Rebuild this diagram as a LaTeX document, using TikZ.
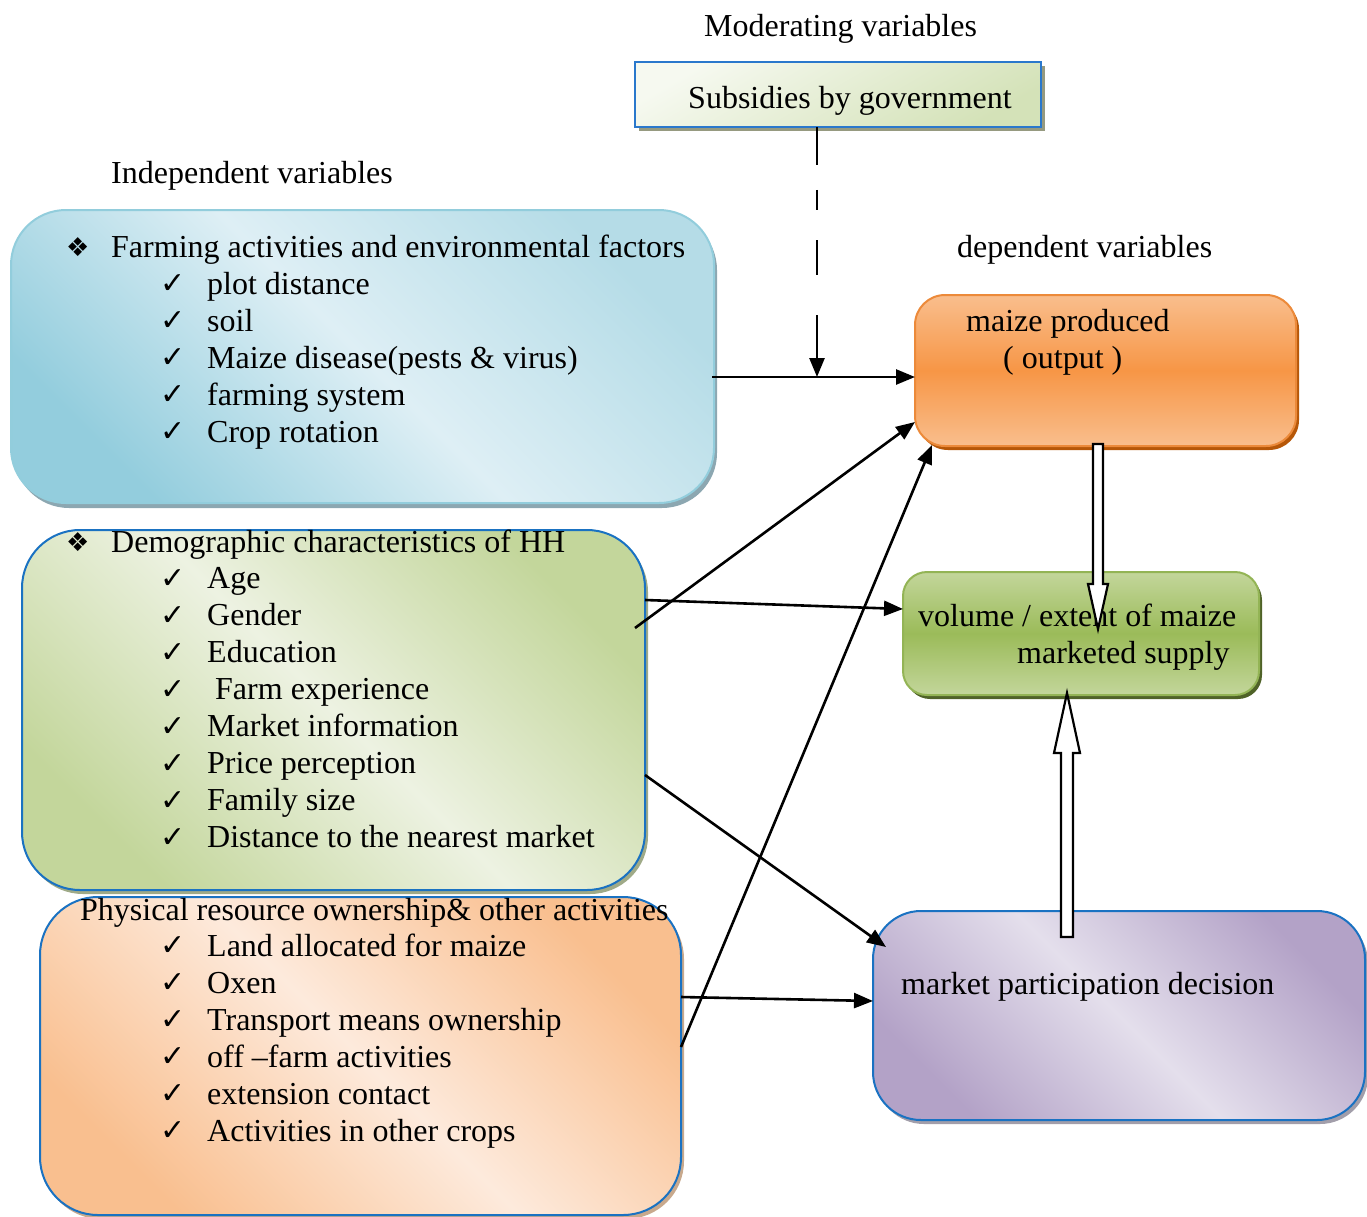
\documentclass[tikz,border=0pt]{standalone}
\usepackage{fontspec}
\setmainfont{Liberation Serif}
\newfontfamily\symf{DejaVu Sans}
\usetikzlibrary{arrows.meta,shadows,calc}
\definecolor{subA}{HTML}{F6F9F0}
\definecolor{subB}{HTML}{D4E2B8}
\definecolor{subBorder}{HTML}{2A78CC}
\definecolor{subShadow}{HTML}{969A80}
\definecolor{blueDark}{HTML}{93CDDD}
\definecolor{blueMid}{HTML}{B5DCE7}
\definecolor{blueLight}{HTML}{DEEFF5}
\definecolor{blueBorder}{HTML}{92CDDC}
\definecolor{blueShadow}{HTML}{8CA7B1}
\definecolor{demoDark}{HTML}{C3D69B}
\definecolor{demoLight}{HTML}{EDF2E2}
\definecolor{boxBlue}{HTML}{1A72C2}
\definecolor{demoShadow}{HTML}{9FAA88}
\definecolor{physDark}{HTML}{F9BF8F}
\definecolor{physLight}{HTML}{FDEADC}
\definecolor{physShadow}{HTML}{C8A98D}
\definecolor{purpDark}{HTML}{B3A2C7}
\definecolor{purpLight}{HTML}{E4DFEC}
\definecolor{purpShadow}{HTML}{A29EAA}
\definecolor{orgA}{HTML}{F9BE8D}
\definecolor{orgB}{HTML}{F79646}
\definecolor{orgBorder}{HTML}{EC8A3A}
\definecolor{orgShadow}{HTML}{B65708}
\definecolor{grnA}{HTML}{C3D69B}
\definecolor{grnB}{HTML}{9BBB59}
\definecolor{grnBorder}{HTML}{93B455}
\definecolor{grnShadow}{HTML}{4F6228}
\begin{document}
\begin{tikzpicture}[x=1pt,y=-1pt,
  boxbase/.style={rectangle, inner sep=0pt, line width=2pt},
  txt/.style={anchor=base west, inner sep=0pt, font=\fontsize{32}{37}\selectfont},
  chk/.style={anchor=base west, inner sep=0pt, font=\symf\bfseries\fontsize{30}{32}\selectfont},
  dia/.style={anchor=base west, inner sep=0pt, font=\symf\fontsize{26}{30}\selectfont},
  conn/.style={line width=2.6pt, -{Triangle[length=19pt,width=15pt]}},
  hollow/.style={line width=2.2pt, fill=white, draw=black, line join=miter}
]
\useasboundingbox (0,0) rectangle (1367,1217);

% ---------- boxes ----------
\node[boxbase, draw=subBorder, line width=2.8pt, minimum width=406pt, minimum height=65pt,
  top color=subA, bottom color=subB, shading angle=30,
  general shadow={shadow xshift=4pt, shadow yshift=-4pt, fill=subShadow}]
  (sub) at (838,94.5) {};

\node[boxbase, draw=blueBorder, rounded corners=55pt, minimum width=703pt, minimum height=293pt,
  top color=blueDark, bottom color=blueMid, middle color=blueLight, shading angle=135,
  general shadow={shadow xshift=3pt, shadow yshift=-5pt, fill=blueShadow}]
  (farm) at (362.5,356.5) {};

\node[boxbase, draw=boxBlue, rounded corners=58pt, minimum width=623pt, minimum height=360pt,
  top color=demoDark, bottom color=demoDark, middle color=demoLight, shading angle=135,
  general shadow={shadow xshift=3pt, shadow yshift=-4pt, fill=demoShadow}]
  (demo) at (333.5,710) {};

\node[boxbase, draw=boxBlue, rounded corners=58pt, minimum width=641pt, minimum height=318pt,
  top color=physDark, bottom color=physDark, middle color=physLight, shading angle=135,
  general shadow={shadow xshift=3pt, shadow yshift=-4pt, fill=physShadow}]
  (phys) at (360.5,1056) {};

\node[boxbase, draw=orgBorder, rounded corners=30pt, minimum width=381pt, minimum height=151pt,
  top color=orgA, bottom color=orgA, middle color=orgB,
  general shadow={shadow xshift=3pt, shadow yshift=-4pt, fill=orgShadow}]
  (maize) at (1105.5,370.5) {};

\node[boxbase, draw=grnBorder, rounded corners=24pt, minimum width=356pt, minimum height=123pt,
  top color=grnA, bottom color=grnA, middle color=grnB,
  general shadow={shadow xshift=3pt, shadow yshift=-4pt, fill=grnShadow}]
  (supply) at (1081,633.5) {};

\node[boxbase, draw=boxBlue, rounded corners=48pt, minimum width=492pt, minimum height=209pt,
  top color=purpDark, bottom color=purpDark, middle color=purpLight, shading angle=135,
  general shadow={shadow xshift=3pt, shadow yshift=-4pt, fill=purpShadow}]
  (mpd) at (1119,1015.5) {};

% ---------- free texts ----------
\node[txt] (modlbl) at (704,37) {Moderating variables};
\node[txt] (sublbl) at (688,109) {Subsidies by government};
\node[txt] (indlbl) at (111,183) {Independent variables};
\node[txt] (deplbl) at (957,257) {dependent variables};

% farming box
\node[dia] (d1) at (66,256) {❖};
\node[txt] (h1) at (111,257) {Farming activities and environmental factors};
\foreach \t [count=\i] in {plot distance, soil, {Maize disease(pests \& virus)}, farming system, Crop rotation}{
  \node[chk] (c1-\i) at (160,{256+37*\i}) {✓};
  \node[txt] (t1-\i) at (207,{257+37*\i}) {\t};
}

% demographic box
\node[dia] (d2) at (66,551) {❖};
\node[txt] (h2) at (111,552) {Demographic characteristics of HH};
\foreach \t [count=\i] in {Age, Gender, Education, {\hspace{8pt}Farm experience}, Market information, Price perception, Family size, Distance to the nearest market}{
  \node[chk] (c2-\i) at (160,{551+37*\i}) {✓};
  \node[txt] (t2-\i) at (207,{552+36.9*\i}) {\t};
}

% physical box
\node[txt] (h3) at (80,920) {Physical resource ownership\& other activities};
\foreach \t [count=\i] in {Land allocated for maize, Oxen, Transport means ownership, {off \textendash farm activities}, extension contact, Activities in other crops}{
  \node[chk] (c3-\i) at (160,{918+37*\i}) {✓};
  \node[txt] (t3-\i) at (207,{919+37*\i}) {\t};
}

% right boxes texts
\node[txt] (m1) at (966,331) {maize produced};
\node[txt] (m2) at (1003,368) {( output )};
\node[txt] (s1) at (918,626) {volume / extent of maize};
\node[txt] (s2) at (1017,663) {marketed supply};
\node[txt] (p1) at (901,994) {market participation decision};

% ---------- connectors ----------
\coordinate (farmOut) at (712,377);
\coordinate (maizeIn1) at (915,377);
\coordinate (subOut) at (817,127);
\coordinate (subIn) at (817,377);
\coordinate (demoOut1) at (635,628);
\coordinate (maizeIn2) at (915,422);
\coordinate (demoOut2) at (645,600);
\coordinate (supplyIn) at (903,609);
\coordinate (demoOut3) at (645,775);
\coordinate (mpdIn1) at (886,947);
\coordinate (physOut1) at (681,997);
\coordinate (mpdIn2) at (873,1001);
\coordinate (physOut2) at (681,1047);
\coordinate (maizeIn3) at (932,445);

\draw[conn] (farmOut) -- (maizeIn1);
\draw[conn, dash pattern=on 38pt off 25pt on 20pt off 30pt on 35pt off 40pt on 80pt off 1pt] (subOut) -- (subIn);
\draw[conn] (demoOut1) -- (maizeIn2);
\draw[conn] (demoOut2) -- (supplyIn);
\draw[conn] (demoOut3) -- (mpdIn1);
\draw[conn] (physOut1) -- (mpdIn2);
\draw[conn] (physOut2) -- (maizeIn3);

% hollow block arrows
\coordinate (h1s) at (1098,444);
\coordinate (h1e) at (1098,629);
\draw[hollow] ($(h1s)+(-5,0)$) -- ($(h1e)+(-5,-45)$) -- ($(h1e)+(-10,-45)$) -- (h1e)
  -- ($(h1e)+(10,-45)$) -- ($(h1e)+(5,-45)$) -- ($(h1s)+(5,0)$) -- cycle;
\coordinate (h2s) at (1067,937);
\coordinate (h2e) at (1067,693);
\draw[hollow] ($(h2s)+(-6,0)$) -- ($(h2e)+(-6,60)$) -- ($(h2e)+(-13,60)$) -- (h2e)
  -- ($(h2e)+(13,60)$) -- ($(h2e)+(6,60)$) -- ($(h2s)+(6,0)$) -- cycle;
\end{tikzpicture}
\end{document}
